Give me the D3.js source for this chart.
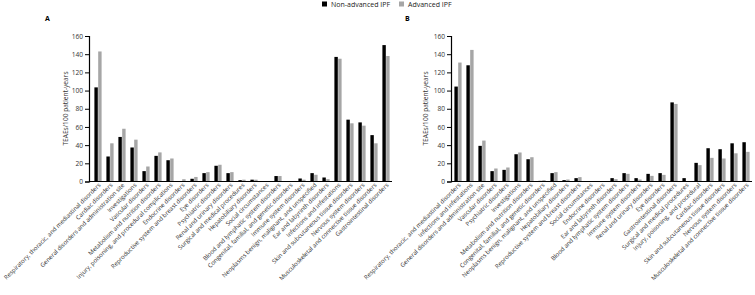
<!DOCTYPE html>
<html><head><meta charset="utf-8">
<script src="https://cdn.jsdelivr.net/npm/d3@7"></script>
<style>body{margin:0;background:#fff;} text{font-family:"Open Sans",sans-serif;}</style>
</head><body><svg id="c" width="755" height="295"></svg>
<script>
const seriesNames = ["Non-advanced IPF", "Advanced IPF"];
const colors = ["#000000", "#a6a6a6"];
const yTicks = [0, 20, 40, 60, 80, 100, 120, 140, 160];

const categoriesA = [
  "Respiratory, thoracic, and mediastinal disorders","Cardiac disorders","General disorders and administration site",
  "Investigations","Vascular disorders","Metabolism and nutrition disorders","Injury, poisoning, and procedural complications",
  "Endocrine disorders","Reproductive system and breast disorders","Eye disorders","Psychiatric disorders",
  "Renal and urinary disorders","Surgical and medical procedures","Hepatobiliary disorders","Social circumstances",
  "Blood and lymphatic system disorders","Congenital, familial, and genetic disorders","Immune system disorders",
  "Neoplasms benign, malignant, and unspecified","Ear and labyrinth disorders","Infections and infestations",
  "Skin and subcutaneous tissue disorders","Nervous system disorders","Musculoskeletal and connective tissue disorders",
  "Gastrointestinal disorders"];
const nonAdvA = [103.5,27.5,49,37.4,11.4,28.2,23.4,0.4,3,9.2,17.3,9.2,1.5,2,0,6,0,3.3,9.2,4.4,137,68,65,51,150];
const advA    = [143,42,58,46,16.5,32,25.3,2.5,5,10.3,18.4,10.3,2,2,0,6,0,2,7.4,2.6,135,64,61.4,42,138];

const categoriesB = [
  "Respiratory, thoracic, and mediastinal disorders","Infections and infestations","General disorders and administration site",
  "Vascular disorders","Psychiatric disorders","Investigations","Metabolism and nutrition disorders",
  "Congenital, familial, and genetic disorders","Neoplasms benign, malignant, and unspecified","Hepatobiliary disorders",
  "Reproductive system and breast disorders","Social circumstances","Endocrine disorders","Ear and labyrinth disorders",
  "Blood and lymphatic system disorders","Immune system disorders","Renal and urinary disorders","Eye disorders",
  "Gastrointestinal disorders","Surgical and medical procedures","Injury, poisoning, and procedural","Cardiac disorders",
  "Skin and subcutaneous tissue disorders","Nervous system disorders","Musculoskeletal and connective tissue disorders"];
const nonAdvB = [104.4,127.8,39.2,11.4,12.8,30,24.5,0.7,9.2,1.5,3.7,0,0.5,3.7,9.2,3.7,8.4,9.2,87,3.7,20.5,36.6,35.5,42,43.2];
const advB    = [130.8,144.7,45,14.3,15.4,31.9,26.7,1.5,10.3,2.2,4.8,0,0,2.6,8.4,2.2,6.2,7.3,85.3,0,18,26,25.3,31,32.6];

const svg = d3.select("#c");

function panel(letter, cats, s1, s2, axisX, x0, x1, letterX, titleX) {
  const y = d3.scaleLinear().domain([0,160]).range([181.5, 36]);
  const xb = d3.scaleBand().domain(cats).range([x0, x1]).paddingInner(0.4).paddingOuter(0.2);
  const xi = d3.scaleBand().domain([0,1]).range([0, xb.bandwidth()]).paddingInner(0.1);
  const g = svg.append("g");
  const data = cats.map((c,i)=>({c, v:[s1[i], s2[i]]}));
  const grp = g.selectAll("g.grp").data(data).join("g").attr("transform", d=>`translate(${xb(d.c)},0)`);
  grp.selectAll("rect").data(d=>d.v.map((v,k)=>({v,k}))).join("rect")
    .attr("x", d=>xi(d.k)).attr("width", xi.bandwidth())
    .attr("y", d=>y(d.v)).attr("height", d=>y(0)-y(d.v))
    .attr("fill", d=>colors[d.k]);
  const ya = g.append("g").attr("transform",`translate(${axisX},0)`)
    .call(d3.axisLeft(y).tickValues(yTicks).tickSize(4).tickPadding(2));
  ya.select(".domain").attr("stroke","#000").attr("stroke-width",1.2);
  ya.selectAll(".tick line").attr("stroke","#000");
  ya.selectAll("text").attr("font-size",6.6).attr("fill","#333");
  g.append("line").attr("x1",axisX).attr("x2",x1).attr("y1",y(0)).attr("y2",y(0)).attr("stroke","#000").attr("stroke-width",1.2);
  g.selectAll("text.xl").data(cats).join("text").attr("class","xl")
    .attr("text-anchor","end").attr("font-size",6.0).attr("fill","#333")
    .attr("transform", d=>`translate(${xb(d)+xb.bandwidth()/2+3},${y(0)+4}) rotate(-45)`)
    .text(d=>d);
  g.append("text").attr("transform",`translate(${titleX},108.5) rotate(-90)`)
    .attr("text-anchor","middle").attr("font-size",6.6).attr("fill","#333").text("TEAEs/100 patient-years");
  g.append("text").attr("x",letterX).attr("y",21).attr("font-size",7).attr("font-weight","bold").text(letter);
}

panel("A", categoriesA, nonAdvA, advA, 89, 92, 392, 45, 68);
panel("B", categoriesB, nonAdvB, advB, 451, 452, 752, 405, 428);

const lg = svg.append("g");
const lx = [322, 399];
seriesNames.forEach((n,i)=>{
  lg.append("rect").attr("x",lx[i]).attr("y",1.5).attr("width",5).attr("height",5).attr("fill",colors[i]);
  lg.append("text").attr("x",lx[i]+9).attr("y",6.8).attr("font-size",7).attr("fill","#222").text(n);
});
</script></body></html>
